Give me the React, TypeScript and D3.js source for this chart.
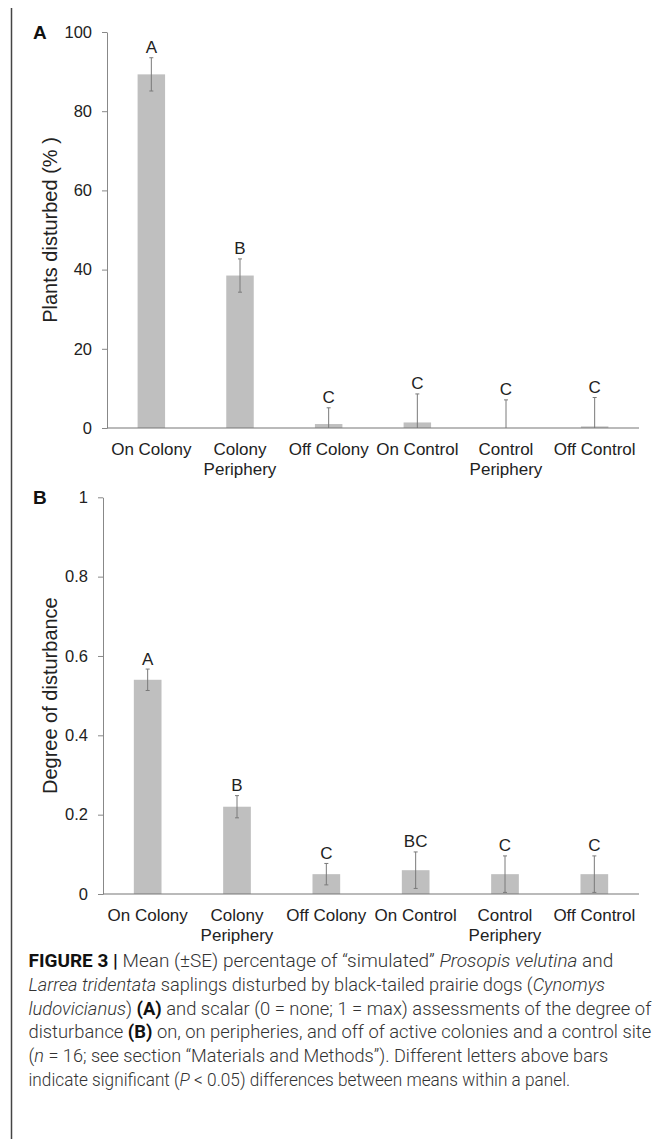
import React, { useEffect, useRef } from "react";
import * as d3 from "d3";

// categories shared by both panels ("\n" = line break in axis label)
const categories = ["On Colony", "Colony\nPeriphery", "Off Colony", "On Control", "Control\nPeriphery", "Off Control"];

// panel A: plants disturbed (%)
const plantsMean = [89.3, 38.5, 1.0, 1.4, 0, 0.4];
const plantsSE = [4.2, 4.2, 4.1, 7.2, 7.1, 7.3];
const plantsLetters = ["A", "B", "C", "C", "C", "C"];
const plantsTicks = [0, 20, 40, 60, 80, 100];

// panel B: degree of disturbance
const degreeMean = [0.54, 0.22, 0.05, 0.06, 0.05, 0.05];
const degreeSE = [0.027, 0.028, 0.027, 0.046, 0.046, 0.046];
const degreeLetters = ["A", "B", "C", "BC", "C", "C"];
const degreeTicks = [0, 0.2, 0.4, 0.6, 0.8, 1];

// caption lines: [text, style] pieces
const captionLines: [string, string][][] = [
  [["FIGURE 3 | ", "b"], ["Mean (±SE) percentage of “simulated” ", ""], ["Prosopis velutina", "i"], [" and", ""]],
  [["Larrea tridentata", "i"], [" saplings disturbed by black-tailed prairie dogs (", ""], ["Cynomys", "i"]],
  [["ludovicianus", "i"], [") ", ""], ["(A)", "b"], [" and scalar (0 = none; 1 = max) assessments of the degree of", ""]],
  [["disturbance ", ""], ["(B)", "b"], [" on, on peripheries, and off of active colonies and a control site", ""]],
  [["(", ""], ["n", "i"], [" = 16; see section “Materials and Methods”). Different letters above bars", ""]],
  [["indicate significant (", ""], ["P", "i"], [" < 0.05) differences between means within a panel.", ""]],
];
const captionWidths = [585, 577, 623, 623, 580, 542];

const FONT = "'Liberation Sans', Arial, sans-serif";

function drawPanel(g: any, o: any) {
  const x = d3.scaleBand().domain(categories).range([o.left, o.right]).paddingInner(0.69).paddingOuter(0.345);
  const y = d3.scaleLinear().domain([0, o.max]).range([o.bottom, o.top]);

  // bars
  g.selectAll(".bar").data(o.mean).join("rect").attr("class", "bar")
    .attr("x", (d: number, i: number) => x(categories[i]))
    .attr("width", x.bandwidth())
    .attr("y", (d: number) => y(d))
    .attr("height", (d: number) => y(0) - y(d))
    .attr("fill", "#bfbfbf");

  // error bars
  const cx = (i: number) => (x(categories[i]) as number) + x.bandwidth() / 2;
  o.mean.forEach((m: number, i: number) => {
    const hi = m + o.se[i];
    const lo = Math.max(0, m - o.se[i]);
    const eb = g.append("g").attr("stroke", "#7a7a7a").attr("stroke-width", 1);
    eb.append("line").attr("x1", cx(i)).attr("x2", cx(i)).attr("y1", y(hi)).attr("y2", y(lo));
    eb.append("line").attr("x1", cx(i) - 2).attr("x2", cx(i) + 2).attr("y1", y(hi)).attr("y2", y(hi));
    if (lo > 0) eb.append("line").attr("x1", cx(i) - 2).attr("x2", cx(i) + 2).attr("y1", y(lo)).attr("y2", y(lo));
    g.append("text").attr("x", cx(i)).attr("y", y(hi) - 4.5)
      .attr("text-anchor", "middle").attr("font-family", FONT).attr("font-size", 17).attr("fill", "#222")
      .text(o.letters[i]);
  });

  // y axis
  const yAxis = g.append("g").attr("transform", `translate(${o.left},0)`)
    .call(d3.axisLeft(y).tickValues(o.ticks).tickSize(5).tickSizeOuter(0).tickPadding(10).tickFormat((d: any) => String(d)));
  yAxis.select(".domain").attr("stroke", "#888");
  yAxis.selectAll(".tick line").attr("stroke", "#888");
  yAxis.selectAll(".tick text").attr("font-family", FONT).attr("font-size", 16.5).attr("fill", "#222");

  // x axis
  g.append("line").attr("x1", o.left).attr("x2", o.right).attr("y1", y(0)).attr("y2", y(0))
    .attr("stroke", "#777").attr("stroke-width", 1.2);
  categories.forEach((c, i) => {
    const t = g.append("text").attr("x", cx(i)).attr("y", y(0) + 27)
      .attr("text-anchor", "middle").attr("font-family", FONT).attr("font-size", 17).attr("fill", "#222");
    c.split("\n").forEach((s, k) => {
      t.append("tspan").attr("x", cx(i)).attr("dy", k === 0 ? 0 : 20).text(s);
    });
  });

  // axis title
  g.append("text").attr("transform", `translate(${o.labelX},${(o.top + o.bottom) / 2}) rotate(-90)`)
    .attr("text-anchor", "middle").attr("dominant-baseline", "central")
    .attr("font-family", FONT).attr("font-size", 20).attr("fill", "#222").text(o.label);

  // panel letter
  g.append("text").attr("x", 33).attr("y", o.top + 7).attr("font-family", FONT).attr("font-weight", "bold")
    .attr("font-size", 19).attr("fill", "#111").text(o.panel);
}

export default function App() {
  const ref = useRef<SVGSVGElement>(null);

  useEffect(() => {
    const svg = d3.select(ref.current);
    svg.selectAll("*").remove();

    // frame (left and top edges)
    svg.append("path").attr("d", "M11.5,1139 V6.5 H668").attr("fill", "none").attr("stroke", "#444").attr("stroke-width", 1.5);

    drawPanel(svg.append("g"), {
      left: 107, right: 639, top: 32, bottom: 428, max: 100,
      mean: plantsMean, se: plantsSE, letters: plantsLetters, ticks: plantsTicks,
      label: "Plants disturbed (% )", labelX: 50, panel: "A",
    });
    drawPanel(svg.append("g"), {
      left: 103, right: 639, top: 497.3, bottom: 894, max: 1,
      mean: degreeMean, se: degreeSE, letters: degreeLetters, ticks: degreeTicks,
      label: "Degree of disturbance", labelX: 50, panel: "B",
    });

    // caption
    captionLines.forEach((line, li) => {
      const lg = svg.append("g");
      const t = lg.append("text").attr("x", 0).attr("y", 967 + li * 23.8)
        .attr("font-family", "Roboto, 'Liberation Sans', sans-serif").attr("font-weight", 300)
        .attr("font-size", 18).attr("fill", "#333");
      line.forEach(([s, st]) => {
        const sp = t.append("tspan").text(s);
        if (st === "b") sp.attr("font-weight", 700).attr("fill", "#111");
        if (st === "i") sp.attr("font-style", "italic");
      });
      const w = (t.node() as SVGTextElement).getComputedTextLength();
      lg.attr("transform", `translate(28.5,0) scale(${captionWidths[li] / w},1)`);
    });
  }, []);

  return <svg ref={ref} width={660} height={1139} style={{ display: "block", margin: "-8px 0 0 -8px" }} />;
}
